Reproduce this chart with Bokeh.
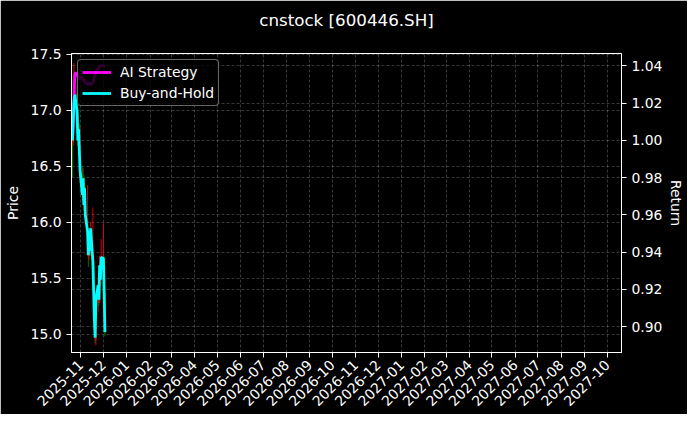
import pandas as pd
from datetime import datetime
from bokeh.plotting import figure
from bokeh.models import (Range1d, LinearAxis, Grid, MonthsTicker, DatetimeTickFormatter,
                          SingleIntervalTicker, NumeralTickFormatter, ColumnDataSource, Title)
from bokeh.embed import file_html
from bokeh.resources import INLINE
from math import pi

# daily bars, 600446.SH
dates = ["2025-10-21", "2025-10-22", "2025-10-23", "2025-10-24", "2025-10-27",
         "2025-10-28", "2025-10-29", "2025-10-30", "2025-10-31", "2025-11-03",
         "2025-11-04", "2025-11-05", "2025-11-06", "2025-11-07", "2025-11-10",
         "2025-11-11", "2025-11-12", "2025-11-13", "2025-11-14", "2025-11-17",
         "2025-11-18", "2025-11-19", "2025-11-20", "2025-11-21", "2025-11-24",
         "2025-11-25", "2025-11-26", "2025-11-27", "2025-11-28", "2025-12-01",
         "2025-12-02", "2025-12-03"]
opens = [16.80, 16.72, 16.93, 17.05, 17.15, 16.98, 16.72, 16.85, 16.40, 16.45,
         16.22, 16.40, 16.14, 16.28, 15.85, 15.92, 15.70, 15.88, 15.72, 15.60,
         15.62, 15.38, 15.10, 14.95, 15.28, 15.45, 15.30, 15.62, 15.48, 15.62,
         15.66, 15.36]
highs = [16.95, 17.28, 17.42, 17.30, 17.22, 17.02, 16.95, 16.88, 16.86, 16.50,
         16.48, 16.42, 16.36, 16.32, 16.33, 15.95, 15.95, 15.92, 16.00, 16.13,
         15.66, 15.42, 15.15, 15.36, 15.50, 15.48, 15.70, 15.66, 15.85, 15.99,
         15.70, 15.40]
lows = [16.40, 16.68, 16.90, 16.98, 16.95, 16.68, 16.70, 16.60, 16.35, 16.20,
        16.18, 16.10, 16.10, 16.02, 15.80, 15.60, 15.66, 15.70, 15.70, 15.55,
        15.35, 15.08, 14.92, 14.90, 15.20, 15.25, 15.28, 15.42, 15.45, 15.55,
        15.30, 14.98]
closes = [16.73, 16.92, 17.08, 17.14, 16.99, 16.73, 16.83, 16.64, 16.46, 16.24,
          16.39, 16.15, 16.30, 16.06, 15.91, 15.70, 15.87, 15.74, 15.94, 15.64,
          15.39, 15.12, 14.96, 15.30, 15.43, 15.30, 15.61, 15.48, 15.68, 15.67,
          15.35, 15.01]
ai_strategy = [1.000, 1.011, 1.021, 1.036, 1.036, 1.034, 1.034, 1.033, 1.033, 1.034,
               1.033, 1.032, 1.032, 1.031, 1.030, 1.030, 1.031, 1.030, 1.030, 1.031,
               1.032, 1.034, 1.036, 1.037, 1.038, 1.039, 1.040, 1.040, 1.040, 1.040,
               1.040, 1.040]

FONT = "DejaVu Sans"


def create_plot():
    df = pd.DataFrame({"date": pd.to_datetime(dates), "open": opens, "high": highs,
                       "low": lows, "close": closes, "ai": ai_strategy})
    df["bh"] = df["close"] / df["close"].iloc[0]
    df["color"] = ["red" if c >= o else "green" for o, c in zip(df["open"], df["close"])]
    src = ColumnDataSource(df)

    p = figure(
        x_axis_type="datetime",
        frame_width=550, frame_height=299,
        x_range=Range1d(datetime(2025, 10, 19, 15), datetime(2027, 10, 20)),
        y_range=Range1d(14.836, 17.505),
        toolbar_location=None,
        output_backend="svg",
        min_border_left=71, min_border_right=60, min_border_top=53, min_border_bottom=62,
    )
    p.extra_y_ranges = {"ret": Range1d(0.8862, 1.0466)}

    p.background_fill_color = "black"
    p.border_fill_color = "black"
    p.outline_line_color = "white"
    p.outline_line_width = 1

    p.title.text = "cnstock [600446.SH]"
    p.title.align = "center"
    p.title.text_color = "white"
    p.title.text_font = FONT
    p.title.text_font_size = "16.7px"
    p.title.text_font_style = "normal"
    # titles added later sit nearer the frame: a blank one lifts the real title
    p.add_layout(Title(text=" ", text_font_size="13px", standoff=2), "above")

    # candles
    p.segment("date", "high", "date", "low", source=src, color="color", line_width=1, alpha=0.85)
    p.vbar("date", 0.6 * 86400000, "open", "close", source=src, fill_color="color",
           line_color="color", alpha=0.85)

    # strategy curves on the return axis
    p.line("date", "ai", source=src, y_range_name="ret", color="magenta", line_width=2.8,
           legend_label="AI Strategy")
    p.line("date", "bh", source=src, y_range_name="ret", color="cyan", line_width=2.8,
           legend_label="Buy-and-Hold")

    ret_ticks = SingleIntervalTicker(interval=0.02)
    ret_axis = LinearAxis(y_range_name="ret", axis_label="Return", ticker=ret_ticks)
    p.add_layout(ret_axis, "right")

    month_ticks = MonthsTicker(months=list(range(12)))
    p.xaxis.ticker = month_ticks
    p.xgrid.ticker = month_ticks
    p.xaxis.formatter = DatetimeTickFormatter(days="%Y-%m", months="%Y-%m", years="%Y-%m")
    p.xaxis.major_label_orientation = pi / 4
    price_ticks = SingleIntervalTicker(interval=0.5)
    p.yaxis[0].ticker = price_ticks
    p.ygrid.ticker = price_ticks
    p.yaxis[0].formatter = NumeralTickFormatter(format="0.0")
    p.yaxis[0].axis_label = "Price"
    ret_axis.formatter = NumeralTickFormatter(format="0.00")

    for ax in p.axis:
        ax.axis_line_color = "white"
        ax.major_tick_line_color = "white"
        ax.minor_tick_line_color = None
        ax.major_tick_out = 5
        ax.major_tick_in = 0
        ax.major_label_standoff = 5
        ax.major_label_text_color = "white"
        ax.major_label_text_font = FONT
        ax.major_label_text_font_size = "13.9px"
        ax.axis_label_text_color = "white"
        ax.axis_label_text_font = FONT
        ax.axis_label_text_font_size = "13.9px"
        ax.axis_label_text_font_style = "normal"
    p.yaxis[0].axis_label_standoff = 7
    ret_axis.axis_label_standoff = 3

    # dashed grid for both y scales and the months
    p.grid.grid_line_color = "white"
    p.grid.grid_line_alpha = 0.28
    p.grid.grid_line_dash = "3 2"
    p.grid.grid_line_width = 0.8
    rgrid = Grid(dimension=1, ticker=ret_ticks, y_range_name="ret", grid_line_color="white",
                 grid_line_alpha=0.28, grid_line_dash="3 2", grid_line_width=0.8)
    p.add_layout(rgrid)

    leg = p.legend[0]
    leg.location = "top_left"
    leg.margin = 6
    leg.padding = 4
    leg.spacing = 5
    leg.glyph_width = 29
    leg.glyph_height = 16
    leg.label_height = 16
    leg.label_standoff = 9
    leg.label_text_color = "white"
    leg.label_text_font = FONT
    leg.label_text_font_size = "13.9px"
    leg.background_fill_color = "black"
    leg.background_fill_alpha = 0.8
    leg.border_line_color = "#cccccc"
    leg.border_line_width = 1
    leg.border_radius = 4

    return p


p = create_plot()
open("out.html", "w").write(file_html(p, INLINE))
